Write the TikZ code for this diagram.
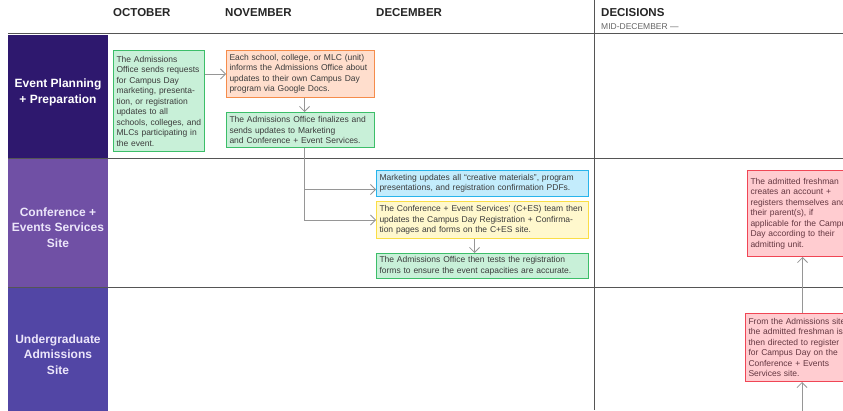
\documentclass[tikz,border=0pt]{standalone}
\usepackage{fontspec}
\setmainfont{Liberation Sans}
\definecolor{laneone}{RGB}{46,24,110}
\definecolor{lanetwo}{RGB}{112,80,165}
\definecolor{lanethree}{RGB}{82,70,165}
\definecolor{lanetext}{RGB}{236,230,250}
\definecolor{rulegray}{RGB}{85,85,85}
\definecolor{arrowgray}{RGB}{150,150,150}
\definecolor{boxtext}{RGB}{60,60,60}
\definecolor{redtext}{RGB}{100,55,65}
\definecolor{greenfill}{RGB}{200,240,216}
\definecolor{greenline}{RGB}{60,190,105}
\definecolor{orangefill}{RGB}{255,222,205}
\definecolor{orangeline}{RGB}{245,140,75}
\definecolor{bluefill}{RGB}{195,236,252}
\definecolor{blueline}{RGB}{40,180,235}
\definecolor{yellowfill}{RGB}{255,248,205}
\definecolor{yellowline}{RGB}{250,222,70}
\definecolor{redfill}{RGB}{255,204,208}
\definecolor{redline}{RGB}{240,70,85}
\usetikzlibrary{arrows.meta, positioning, calc}

\begin{document}
\begin{tikzpicture}[x=1pt, y=-1pt,
    task/.style={draw, line width=1pt, anchor=north west, inner xsep=3pt, inner ysep=3pt,
      align=left, text=boxtext, font=\fontsize{8.5}{10.5}\selectfont},
    greenbox/.style={task, draw=greenline, fill=greenfill},
    orangebox/.style={task, draw=orangeline, fill=orangefill},
    bluebox/.style={task, draw=blueline, fill=bluefill},
    yellowbox/.style={task, draw=yellowline, fill=yellowfill},
    redbox/.style={task, draw=redline, fill=redfill, text=redtext},
    flow/.style={draw=arrowgray, line width=0.8pt, -{Straight Barb[length=5pt, width=10pt]}},
    month/.style={anchor=west, inner sep=0pt, text=black!85, font=\bfseries\fontsize{11.5}{13}\selectfont},
    lanelabel/.style={align=center, inner sep=0pt, font=\bfseries\fontsize{12}{15.5}\selectfont}]
  \clip (0,0) rectangle (843,410);
  \fill[white] (0,0) rectangle (843,410);

  % Lanes
  \fill[laneone] (8,35) rectangle (108,158);
  \fill[lanetwo] (8,159) rectangle (108,287);
  \fill[lanethree] (8,288) rectangle (108,412);
  \draw[rulegray, line width=1.5pt] (8,33.5) -- (843,33.5);
  \draw[rulegray, line width=1.5pt] (8,158.5) -- (843,158.5);
  \draw[rulegray, line width=1.5pt] (8,287.5) -- (843,287.5);
  \draw[rulegray, line width=0.8pt] (594,0) -- (594,410);

  \node[lanelabel, text=white] (planning) at (58,92.5) {Event Planning\\+ Preparation};
  \node[lanelabel, text=lanetext] (cessite) at (58,227.5) {Conference +\\Events Services\\Site};
  \node[lanelabel, text=lanetext] (ugsite) at (58,354.5) {Undergraduate\\Admissions\\Site};

  % Months
  \node[month] (oct) at (113,13) {OCTOBER};
  \node[month] (nov) at (225,13) {NOVEMBER};
  \node[month] (dec) at (376,13) {DECEMBER};
  \node[month] (decisions) at (601,13) {DECISIONS};
  \node[anchor=west, inner sep=0pt, text=black!60, font=\fontsize{8.5}{9}\selectfont] (middec) at (601,27) {MID-DECEMBER —};

  % Steps
  \node[greenbox, text width=85pt, minimum width=91pt, minimum height=101pt] (requests) at (113,50)
    {The Admissions\\Office sends requests\\for Campus Day\\marketing, presenta-\\tion, or registration\\updates to all\\schools, colleges, and\\MLCs participating in\\the event.};
  \node[orangebox, text width=142pt, minimum width=148pt, minimum height=47pt] (units) at (226,50)
    {Each school, college, or MLC (unit)\\informs the Admissions Office about\\updates to their own Campus Day\\program via Google Docs.};
  \node[greenbox, text width=142pt, minimum width=148pt, minimum height=35pt] (finalize) at (226,112)
    {The Admissions Office finalizes and\\sends updates to Marketing\\and Conference + Event Services.};
  \node[bluebox, text width=206pt, minimum width=212pt, minimum height=26pt] (marketing) at (376,170)
    {Marketing updates all “creative materials”, program\\presentations, and registration confirmation PDFs.};
  \node[yellowbox, text width=206pt, minimum width=212pt, minimum height=37pt] (ces) at (376,201)
    {The Conference + Event Services’ (C+ES) team then\\updates the Campus Day Registration + Confirma-\\tion pages and forms on the C+ES site.};
  \node[greenbox, text width=206pt, minimum width=212pt, minimum height=25pt] (testing) at (376,253)
    {The Admissions Office then tests the registration\\forms to ensure the event capacities are accurate.};
  \node[redbox, text width=104pt, minimum width=110pt, minimum height=86pt] (register) at (747,170)
    {The admitted freshman\\creates an account +\\registers themselves and\\their parent(s), if\\applicable for the Campus\\Day according to their\\admitting unit.};
  \node[redbox, text width=104pt, minimum width=110pt, minimum height=68pt] (directed) at (745,313)
    {From the Admissions site,\\the admitted freshman is\\then directed to register\\for Campus Day on the\\Conference + Events\\Services site.};
  \coordinate (offpage) at (802,412);

  % Connectors
  \draw[flow] (requests.east |- units.west) -- (units.west);
  \draw[flow] ([xshift=4pt]units.south) -- ([xshift=4pt]finalize.north);
  \draw[flow] ([xshift=4pt]finalize.south) |- ([yshift=-6pt]marketing.west);
  \draw[flow] ([xshift=4pt]finalize.south) |- (ces.west);
  \draw[flow] ([xshift=-8pt]ces.south) -- ([xshift=-8pt]testing.north);
  \draw[flow] ([xshift=2pt]directed.north) -- ([xshift=2pt]directed.north |- register.south);
  \draw[flow] (offpage) -- (offpage |- directed.south);
\end{tikzpicture}
\end{document}
